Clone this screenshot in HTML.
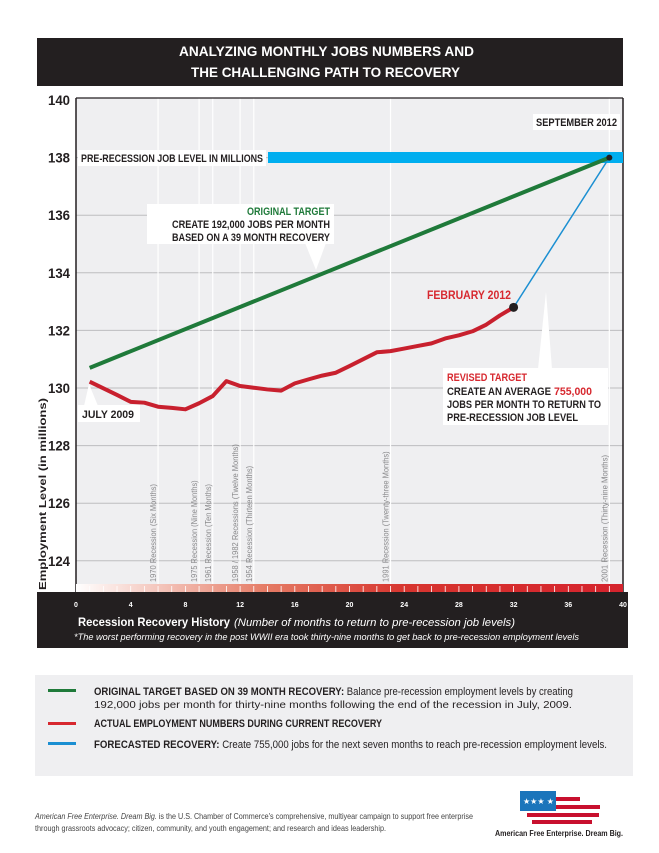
<!DOCTYPE html>
<html><head><meta charset="utf-8"><style>
body{margin:0;background:#fff;}
svg{display:block;font-family:"Liberation Sans Narrow","Liberation Sans",sans-serif;}
.b{font-weight:bold;}
</style></head><body>
<svg id="c" width="659" height="853" viewBox="0 0 659 853">
<rect x="37" y="38" width="586" height="48" fill="#231f20"/>
<text x="179" y="56" fill="#fff" class="b" font-size="14" textLength="295" lengthAdjust="spacingAndGlyphs">ANALYZING MONTHLY JOBS NUMBERS AND</text>
<text x="191" y="77" fill="#fff" class="b" font-size="14" textLength="269" lengthAdjust="spacingAndGlyphs">THE CHALLENGING PATH TO RECOVERY</text>
<rect x="76" y="98" width="547" height="494" fill="#efeff1"/>
<g id="grid"></g><g id="vlines"></g><g id="yticks"></g>
<line x1="76" y1="98" x2="623" y2="98" stroke="#231f20" stroke-width="1.2"/>
<line x1="76" y1="98" x2="76" y2="592" stroke="#231f20" stroke-width="1.5"/>
<line x1="623" y1="98" x2="623" y2="592" stroke="#231f20" stroke-width="1.5"/>
<defs><linearGradient id="rg" x1="0" x2="1"><stop offset="0" stop-color="#fff"/><stop offset="0.35" stop-color="#e57a64"/><stop offset="0.6" stop-color="#d7352f"/><stop offset="1" stop-color="#d5232d"/></linearGradient></defs>
<rect x="76" y="584" width="547" height="8" fill="url(#rg)"/>
<g id="strip-ticks"></g>
<rect x="37" y="592" width="591" height="56" fill="#231f20"/>
<g id="xticks"></g>
<text x="78" y="626" fill="#fff" class="b" font-size="12" textLength="152" lengthAdjust="spacingAndGlyphs">Recession Recovery History</text>
<text x="234" y="626" fill="#fff" font-style="italic" font-size="11" textLength="281" lengthAdjust="spacingAndGlyphs">(Number of months to return to pre-recession job levels)</text>
<text x="74" y="640" fill="#fff" font-style="italic" font-size="9.5" textLength="505" lengthAdjust="spacingAndGlyphs">*The worst performing recovery in the post WWII era took thirty-nine months to get back to pre-recession employment levels</text>
<text transform="translate(46,494) rotate(-90)" text-anchor="middle" class="b" font-size="10" fill="#231f20" textLength="192" lengthAdjust="spacingAndGlyphs">Employment Level (in millions)</text>
<rect x="268" y="152" width="355" height="11" fill="#00aeef"/>
<rect x="78" y="150" width="188" height="16" fill="#fff"/>
<text x="81" y="162" class="b" font-size="11" fill="#231f20" textLength="182" lengthAdjust="spacingAndGlyphs">PRE-RECESSION JOB LEVEL IN MILLIONS</text>
<g id="series"></g>
<rect x="147" y="204" width="187" height="40" fill="#fff"/>
<polygon points="305,243 326,243 316,270" fill="#fff"/>
<text x="247" y="215" class="b" font-size="11" fill="#1f7a3a" textLength="83" lengthAdjust="spacingAndGlyphs">ORIGINAL TARGET</text>
<text x="172" y="228" class="b" font-size="11" fill="#231f20" textLength="158" lengthAdjust="spacingAndGlyphs">CREATE 192,000 JOBS PER MONTH</text>
<text x="172" y="241" class="b" font-size="11" fill="#231f20" textLength="158" lengthAdjust="spacingAndGlyphs">BASED ON A 39 MONTH RECOVERY</text>
<rect x="78" y="405" width="62" height="17" fill="#fff"/>
<polygon points="84,406 98,406 89,384" fill="#fff"/>
<text x="82" y="418" class="b" font-size="11" fill="#231f20" textLength="52" lengthAdjust="spacingAndGlyphs">JULY 2009</text>
<rect x="443" y="368" width="165" height="57" fill="#fff"/>
<polygon points="538,369 552,369 546,292" fill="#fff"/>
<text x="447" y="381" class="b" font-size="11" fill="#d7282f" textLength="80" lengthAdjust="spacingAndGlyphs">REVISED TARGET</text>
<text x="447" y="395" class="b" font-size="11" fill="#231f20" textLength="104" lengthAdjust="spacingAndGlyphs">CREATE AN AVERAGE</text>
<text x="554" y="395" class="b" font-size="11" fill="#d7282f" textLength="38" lengthAdjust="spacingAndGlyphs">755,000</text>
<text x="447" y="408" class="b" font-size="11" fill="#231f20" textLength="154" lengthAdjust="spacingAndGlyphs">JOBS PER MONTH TO RETURN TO</text>
<text x="447" y="421" class="b" font-size="11" fill="#231f20" textLength="131" lengthAdjust="spacingAndGlyphs">PRE-RECESSION JOB LEVEL</text>
<text x="427" y="299" class="b" font-size="12" fill="#d7282f" textLength="84" lengthAdjust="spacingAndGlyphs">FEBRUARY 2012</text>
<rect x="533" y="114" width="87" height="16" fill="#fff"/>
<text x="536" y="126" class="b" font-size="11" fill="#231f20" textLength="81" lengthAdjust="spacingAndGlyphs">SEPTEMBER 2012</text>
<rect x="35" y="675" width="598" height="101" fill="#efeff1"/>
<g><rect x="48" y="689" width="28" height="3" fill="#1f7a3a"/>
<text x="94" y="695" font-size="11" fill="#231f20" textLength="479" lengthAdjust="spacingAndGlyphs"><tspan class="b">ORIGINAL TARGET BASED ON 39 MONTH RECOVERY:</tspan> Balance pre-recession employment levels by creating</text>
<text x="94" y="708" font-size="10.5" fill="#231f20" textLength="478" lengthAdjust="spacingAndGlyphs">192,000 jobs per month for thirty-nine months following the end of the recession in July, 2009.</text></g>
<g><rect x="48" y="722" width="28" height="3" fill="#d7282f"/>
<text x="94" y="727" class="b" font-size="11" fill="#231f20" textLength="288" lengthAdjust="spacingAndGlyphs">ACTUAL EMPLOYMENT NUMBERS DURING CURRENT RECOVERY</text></g>
<g><rect x="48" y="742" width="28" height="3" fill="#1b8fd2"/>
<text x="94" y="748" font-size="11" fill="#231f20" textLength="513" lengthAdjust="spacingAndGlyphs"><tspan class="b">FORECASTED RECOVERY:</tspan> Create 755,000  jobs for the next seven months to reach pre-recession employment levels.</text></g>
<text x="35" y="819" font-size="8" fill="#444" textLength="438" lengthAdjust="spacingAndGlyphs"><tspan font-style="italic">American Free Enterprise. Dream Big.</tspan> is the U.S. Chamber of Commerce's comprehensive, multiyear campaign to support free enterprise</text>
<text x="35" y="831" font-size="8" fill="#444" textLength="351" lengthAdjust="spacingAndGlyphs">through grassroots advocacy; citizen, community, and youth engagement; and research and ideas leadership.</text>
<g>
<rect x="525" y="797" width="55" height="4" fill="#c8102e"/><rect x="530" y="805" width="70" height="4" fill="#c8102e"/><rect x="527" y="813" width="72" height="4" fill="#c8102e"/><rect x="532" y="820" width="60" height="4" fill="#c8102e"/>
<rect x="520" y="791" width="36" height="20" fill="#1b75bb"/>
<text x="523" y="804" fill="#fff" font-size="8">★★★ ★</text>
<text x="495" y="836" class="b" font-size="8" fill="#231f20" textLength="128" lengthAdjust="spacingAndGlyphs">American Free Enterprise. Dream Big.</text></g>
</svg>
<script>
const yTicks=[124,126,128,130,132,134,136,138,140];
const xTicks=[0,4,8,12,16,20,24,28,32,36,40];
const recessionMonths=[6,9,10,12,13,23,39];
const recessionLabels=["1970 Recession (Six Months)","1975 Recession (Nine Months)","1961 Recession (Ten Months)","1958 / 1982 Recessions (Twelve Months)","1954 Recession (Thirteen Months)","1991 Recession (Twenty-three Months)","2001 Recession (Thirty-nine Months)"];
const actualMonths=[1,2,3,4,5,6,7,8,9,10,11,12,13,14,15,16,17,18,19,20,21,22,23,24,25,26,27,28,29,30,31,32];
const actualValues=[130.22,129.99,129.76,129.52,129.49,129.35,129.31,129.26,129.47,129.72,130.24,130.07,130.01,129.95,129.91,130.16,130.3,130.43,130.53,130.76,131.0,131.24,131.28,131.37,131.46,131.55,131.72,131.83,131.97,132.2,132.52,132.8];
const targetMonths=[1,39];
const targetValues=[130.7,138];
const forecastMonths=[32,39];
const forecastValues=[132.8,138];
const NS="http://www.w3.org/2000/svg";
const X=m=>76+m*13.675;
const Y=v=>388-(v-130)*28.8;
function mk(t,a,p){const e=document.createElementNS(NS,t);for(const k in a)e.setAttribute(k,a[k]);p.appendChild(e);return e;}
const g=document.getElementById('grid'),yt=document.getElementById('yticks'),vl=document.getElementById('vlines'),st=document.getElementById('strip-ticks'),xt=document.getElementById('xticks'),se=document.getElementById('series');
yTicks.forEach(v=>{
 if(v<140){const l=mk('line',{x1:76,x2:623,y1:Y(v),y2:Y(v),stroke:'#bdbdbf','stroke-width':1},g);
 
 }
 const t=mk('text',{x:48,y:Y(v)+5,'font-size':14,'font-weight':'bold',fill:'#231f20',textLength:22,lengthAdjust:'spacingAndGlyphs'},yt);
 t.textContent=v;
 
 
});
recessionMonths.forEach((m,i)=>{
 const l=mk('line',{x1:X(m),x2:X(m),y1:98,y2:584,stroke:'#fff','stroke-width':1.2},vl);
 
 
 const t=mk('text',{transform:`translate(${X(m)-2},582) rotate(-90)`,'font-size':8.5,fill:'#8a8a8c',textLength:recessionLabels[i].length*3.63,lengthAdjust:'spacingAndGlyphs'},vl);
 t.textContent=recessionLabels[i];
 
 
});
for(let m=1;m<40;m++){mk('line',{x1:X(m),x2:X(m),y1:586,y2:592,stroke:'#fff','stroke-width':0.8},st);}
xTicks.forEach(v=>{
 const t=mk('text',{x:X(v),y:607,'text-anchor':'middle','font-size':7,'font-weight':'bold',fill:'#fff'},xt);
 t.textContent=v;
 
 
});
function line(ms,vs,col,w,name){
 const p=mk('polyline',{points:ms.map((m,i)=>X(m)+','+Y(vs[i])).join(' '),fill:'none',stroke:col,'stroke-width':w,'stroke-linejoin':'round'},se);
 
 
}
line(forecastMonths,forecastValues,'#1b8fd2',1.5,'forecast-line');
line(targetMonths,targetValues,'#1f7a3a',4,'original-target-line');
line(actualMonths,actualValues,'#c8202e',4,'actual-employment-line');
const d=mk('circle',{cx:X(actualMonths[actualMonths.length-1]),cy:Y(actualValues[actualValues.length-1]),r:4.5,fill:'#231f20'},se);


const d2=mk('circle',{cx:X(forecastMonths[1]),cy:Y(forecastValues[1]),r:3,fill:'#231f20'},se);


</script>
</body></html>
